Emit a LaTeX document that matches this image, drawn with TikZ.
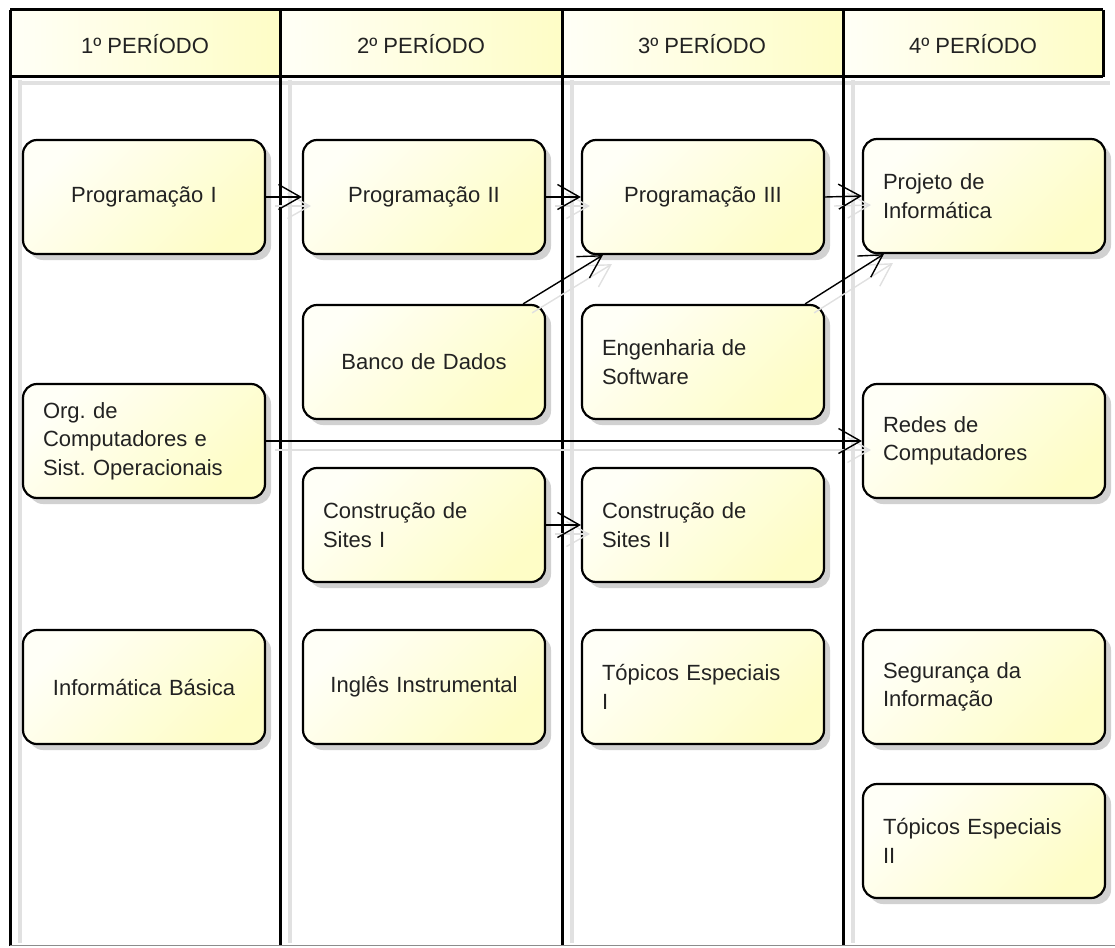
\documentclass[tikz,border=0pt]{standalone}
\usepackage{fontspec}
\setmainfont{Liberation Sans}
\usetikzlibrary{arrows.meta,shadows}
\definecolor{ylA}{RGB}{255,255,247}
\definecolor{ylB}{RGB}{254,253,198}
\definecolor{txt}{RGB}{34,34,34}
\definecolor{shd}{RGB}{225,225,225}
\frenchspacing
\begin{document}
\begin{tikzpicture}[x=1pt,y=-1pt,
  task/.style={draw=black, line width=2.2pt, rounded corners=14pt,
    minimum width=242pt, minimum height=114pt, inner xsep=20pt, inner ysep=0pt,
    text width=202pt, font=\fontsize{22}{28.5}\selectfont, text=txt,
    top color=ylA, bottom color=ylB, shading angle=45,
    drop shadow={shadow xshift=6pt, shadow yshift=-6pt, fill=black, opacity=0.18}},
  ctask/.style={task, align=center},
  ltask/.style={task, align=left},
  hdr/.style={font=\fontsize{22}{26}\selectfont, text=txt, inner sep=0pt},
  lane/.style={draw=black, line width=3pt},
  laneshadow/.style={draw=shd, line width=4pt},
  conn/.style={draw=black, line width=1.4pt,
    -{Straight Barb[length=22pt,width=25pt,line width=1.4pt]},
    preaction={draw=black!12, line width=1.4pt,
      -{Straight Barb[length=22pt,width=25pt,line width=1.4pt]},
      transform canvas={xshift=9pt,yshift=-9pt}}}
]
\useasboundingbox (0,0) rectangle (1115,947);
% header fills
\fill[left color=ylA, right color=ylB] (10,10) rectangle (280,77);
\fill[left color=ylA, right color=ylB] (280,10) rectangle (562,77);
\fill[left color=ylA, right color=ylB] (562,10) rectangle (843,77);
\fill[left color=ylA, right color=ylB] (843,10) rectangle (1103,77);
% shadows of lanes
\draw[laneshadow] (20,80) -- (20,943);
\draw[laneshadow] (290,80) -- (290,943);
\draw[laneshadow] (572,80) -- (572,943);
\draw[laneshadow] (853,80) -- (853,943);
\draw[laneshadow] (20,83) -- (1110,83);
% header border and lanes
\draw[lane] (10,10) -- (1103,10);
\draw[lane] (10,77) -- (1103,77);
\draw[lane] (1103,10) -- (1103,77);
\draw[lane] (10,10) -- (10,946);
\draw[lane] (280,10) -- (280,946);
\draw[lane] (562,10) -- (562,946);
\draw[lane] (843,10) -- (843,946);
\draw[draw=black!45, line width=1.5pt] (10,945.5) -- (1115,945.5);
% header texts
\node[hdr] (h1) at (145,44) {1º PERÍODO};
\node[hdr] (h2) at (421,44) {2º PERÍODO};
\node[hdr] (h3) at (702,44) {3º PERÍODO};
\node[hdr] (h4) at (973,44) {4º PERÍODO};
% lane 1
\node[ctask] (p1) at (144,197) {Programação I};
\node[ltask] (org) at (144,441) {Org. de\\Computadores e\\Sist. Operacionais};
\node[ctask] (ib) at (144,687) {Informática Básica};
% lane 2
\node[ctask] (p2) at (424,197) {Programação II};
\node[ctask] (bd) at (424,362) {Banco de Dados};
\node[ltask] (cs1) at (424,525) {Construção de\\Sites I};
\node[ctask] (ing) at (424,687) {Inglês Instrumental};
% lane 3
\node[ctask] (p3) at (703,197) {Programação III};
\node[ltask] (es) at (703,362) {Engenharia de\\Software};
\node[ltask] (cs2) at (703,525) {Construção de\\Sites II};
\node[ltask] (te1) at (703,687) {Tópicos Especiais\\I};
% lane 4
\node[ltask] (pi) at (984,196) {Projeto de\\Informática};
\node[ltask] (rc) at (984,441) {Redes de\\Computadores};
\node[ltask] (si) at (984,687) {Segurança da\\Informação};
\node[ltask] (te2) at (984,841) {Tópicos Especiais\\II};
% connectors
\draw[conn] (p1.east) -- (p2.west);
\draw[conn] (p2.east) -- (p3.west);
\draw[conn] (p3.east) -- (pi.west);
\draw[conn] ([xshift=-23pt]bd.north east) -- ([xshift=22pt]p3.south west);
\draw[conn] ([xshift=-20pt]es.north east) -- ([xshift=22pt]pi.south west);
\draw[conn] (org.east) -- (rc.west);
\draw[conn] (cs1.east) -- (cs2.west);
\end{tikzpicture}
\end{document}
